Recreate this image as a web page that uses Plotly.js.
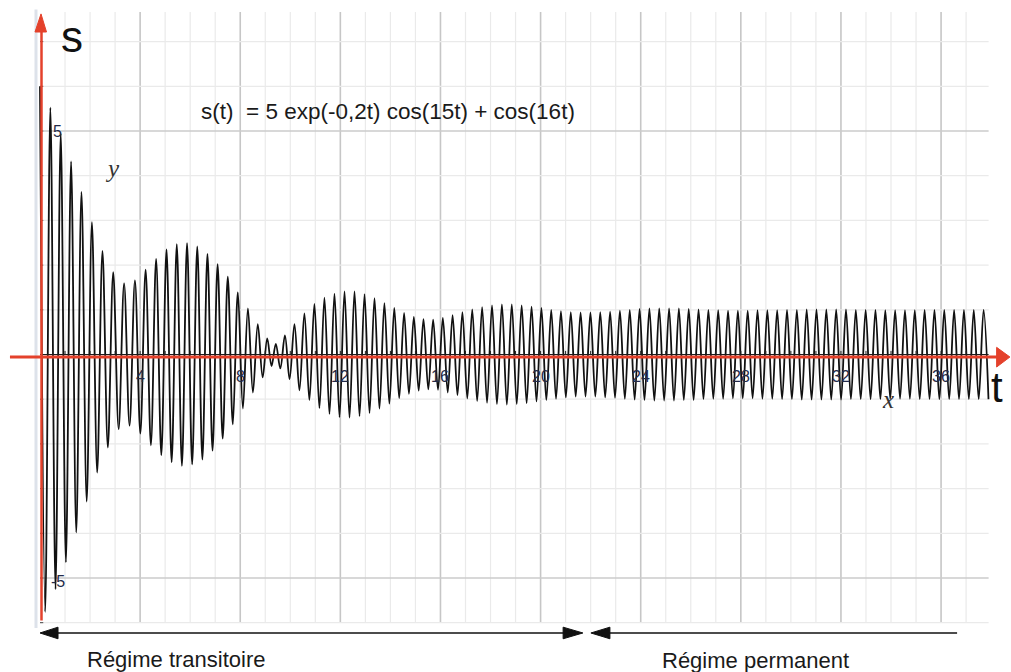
<!DOCTYPE html>
<html>
<head>
<meta charset="utf-8">
<script src="https://cdn.plot.ly/plotly-3.0.1.min.js"></script>
<style>html,body{margin:0;padding:0;background:#fff;}#chart{width:1011px;height:672px;}</style>
</head>
<body>
<div id="chart"></div>
<script>
// Extrema of the plotted curve s(t)
const tPeaks = [
0, 0.207, 0.414, 0.621, 0.828, 1.035, 1.242, 1.449, 1.657, 1.866,
2.075, 2.285, 2.496, 2.710, 2.925, 3.142, 3.360, 3.578, 3.793, 4.009,
4.220, 4.431, 4.639, 4.847, 5.054, 5.260, 5.465, 5.670, 5.875, 6.079,
6.283, 6.487, 6.690, 6.893, 7.096, 7.299, 7.502, 7.704, 7.905, 8.106,
8.307, 8.507, 8.701, 8.896, 9.079, 9.251, 9.422, 9.601, 9.786, 9.971,
10.167, 10.365, 10.564, 10.763, 10.963, 11.164, 11.364, 11.565, 11.765, 11.966,
12.166, 12.366, 12.566, 12.766, 12.966, 13.165, 13.364, 13.562, 13.760, 13.958,
14.155, 14.351, 14.547, 14.741, 14.936, 15.129, 15.321, 15.514, 15.707, 15.901,
16.095, 16.290, 16.484, 16.680, 16.876, 17.072, 17.269, 17.466, 17.664, 17.861,
18.059, 18.256, 18.454, 18.652, 18.849, 19.047, 19.244, 19.442, 19.639, 19.836,
20.033, 20.229, 20.425, 20.617, 20.813, 21.009, 21.206, 21.402, 21.598, 21.795,
21.991, 22.187, 22.384, 22.580, 22.777, 22.973, 23.169, 23.366, 23.562, 23.758,
23.955, 24.151, 24.347, 24.544, 24.740, 24.936, 25.133, 25.329, 25.525, 25.722,
25.918, 26.114, 26.311, 26.507, 26.704, 26.900, 27.096, 27.293, 27.489, 27.685,
27.882, 28.078, 28.274, 28.471, 28.667, 28.863, 29.060, 29.256, 29.452, 29.649,
29.845, 30.041, 30.238, 30.434, 30.631, 30.827, 31.023, 31.220, 31.416, 31.612,
31.809, 32.005, 32.201, 32.398, 32.594, 32.790, 32.987, 33.183, 33.379, 33.576,
33.772, 33.968, 34.165, 34.361, 34.558, 34.754, 34.950, 35.147, 35.343, 35.539,
35.736, 35.932, 36.128, 36.325, 36.521, 36.717, 36.914, 37.110, 37.306, 37.503,
37.699, 37.895
];
const sPeaks = [
6.00, -5.76, 5.52, -5.25, 4.95, -4.65, 4.32, -3.98, 3.64, -3.29,
2.96, -2.64, 2.32, -2.08, 1.84, -1.67, 1.59, -1.59, 1.66, -1.77,
1.90, -2.03, 2.14, -2.25, 2.35, -2.41, 2.47, -2.49, 2.49, -2.46,
2.42, -2.35, 2.25, -2.15, 2.02, -1.88, 1.74, -1.56, 1.39, -1.21,
1.03, -0.85, 0.68, -0.51, 0.36, -0.26, 0.24, -0.31, 0.43, -0.55,
0.68, -0.80, 0.92, -1.02, 1.13, -1.20, 1.27, -1.33, 1.36, -1.40,
1.41, -1.41, 1.41, -1.38, 1.35, -1.31, 1.26, -1.21, 1.15, -1.10,
1.04, -0.98, 0.93, -0.88, 0.84, -0.81, 0.79, -0.78, 0.78, -0.79,
0.82, -0.85, 0.88, -0.91, 0.95, -0.98, 1.01, -1.04, 1.06, -1.08,
1.10, -1.11, 1.12, -1.12, 1.12, -1.11, 1.10, -1.09, 1.07, -1.05,
1.04, -1.02, 1.00, -0.99, 0.97, -0.96, 0.95, -0.94, 0.94, -0.94,
0.94, -0.94, 0.95, -0.96, 0.96, -0.97, 0.98, -0.99, 1.00, -1.01,
1.02, -1.02, 1.03, -1.03, 1.03, -1.03, 1.03, -1.03, 1.03, -1.02,
1.02, -1.02, 1.01, -1.00, 1.00, -0.99, 0.99, -0.99, 0.98, -0.98,
0.98, -0.98, 0.98, -0.98, 0.99, -0.99, 0.99, -0.99, 0.99, -1.00,
1.00, -1.00, 1.00, -1.01, 1.01, -1.01, 1.01, -1.01, 1.01, -1.01,
1.01, -1.01, 1.01, -1.00, 1.00, -1.00, 1.00, -1.00, 1.00, -1.00,
0.99, -0.99, 0.99, -0.99, 0.99, -0.99, 0.99, -1.00, 1.00, -1.00,
1.00, -1.00, 1.00, -1.00, 1.00, -1.00, 1.00, -1.00, 1.00, -1.00,
1.00, -1.00
];

// Tick labels
const xTickVals = [4, 8, 12, 16, 20, 24, 28, 32, 36];
const xTickText = ["4", "8", "12", "16", "20", "24", "28", "32", "36"];
const yTickVals = [5, -5];
const yTickText = ["5", "-5"];

// Texts
const formulaText = "s(t)  = 5 exp(-0,2t) cos(15t) + cos(16t)";
const labelTransitoire = "Régime transitoire";
const labelPermanent = "Régime permanent";
const regimeBoundary = 21.6; // t where the two regimes meet (arrow ends)

// ---------- layout helpers ----------
const RED = "#e4412b";
const shapes = [];
const xMaxGrid = 37.9, yTopGrid = 7.66, yBotGrid = -6.0;

// grid: vertical lines every unit, darker every 4
for (let t = 1; t <= 37; t++) {
  const major = (t % 4 === 0);
  shapes.push({type: "line", layer: "below", xref: "x", yref: "y",
    x0: t, x1: t, y0: yBotGrid, y1: yTopGrid,
    line: {color: major ? "#c6c6c6" : "#eaeaea", width: major ? 1.6 : 1.2}});
}
// grid: horizontal lines every unit, darker at +/-5
for (let s = -6; s <= 7; s++) {
  if (s === 0) continue;
  const major = (Math.abs(s) === 5);
  shapes.push({type: "line", layer: "below", xref: "x", yref: "y",
    x0: 0, x1: xMaxGrid, y0: s, y1: s,
    line: {color: major ? "#cbcbcb" : "#eaeaea", width: major ? 1.6 : 1.2}});
}
// light band to the left of the s axis
shapes.push({type: "line", layer: "below", xref: "x", yref: "y",
  x0: -0.16, x1: -0.16, y0: -6.12, y1: 7.72, line: {color: "#dde2ea", width: 3}});

// black axis line and small ticks
shapes.push({type: "line", xref: "x", yref: "y", x0: 0, x1: xMaxGrid, y0: 0, y1: 0,
  line: {color: "#1a1a1a", width: 1.2}});
for (let t = 1; t <= 37; t++) {
  shapes.push({type: "line", xref: "x", yref: "y", x0: t, x1: t, y0: 0, y1: 0.08,
    line: {color: "#222", width: 1}});
}
for (let s = -6; s <= 7; s++) {
  if (s === 0) continue;
  shapes.push({type: "line", xref: "x", yref: "y", x0: 0, x1: 0.13, y0: s, y1: s,
    line: {color: "#444", width: 1}});
}

// red s axis with arrow
shapes.push({type: "line", xref: "x", yref: "y", x0: 0.06, x1: 0.06, y0: -5.95, y1: 7.3,
  line: {color: RED, width: 2.5}});
shapes.push({type: "path", xref: "x", yref: "y",
  path: "M 0.04 7.62 L 0.26 7.215 L -0.2 7.215 Z", fillcolor: RED, line: {color: RED, width: 1}});
// red t axis with arrow
shapes.push({type: "line", xref: "x", yref: "y", x0: -1.2, x1: 38.3, y0: -0.056, y1: -0.056,
  line: {color: RED, width: 3}});
shapes.push({type: "path", xref: "x", yref: "y",
  path: "M 38.75 -0.056 L 38.22 0.16 L 38.22 -0.28 Z", fillcolor: RED, line: {color: RED, width: 1}});

// regime arrows at the bottom
const yArr = -6.23, hh = 0.13;
shapes.push({type: "line", xref: "x", yref: "y", x0: 0.3, x1: regimeBoundary - 0.3, y0: yArr, y1: yArr,
  line: {color: "#111", width: 1.6}});
shapes.push({type: "path", xref: "x", yref: "y",
  path: `M 0 ${yArr} L 0.72 ${yArr + hh} L 0.72 ${yArr - hh} Z`, fillcolor: "#111", line: {color: "#111", width: 1}});
shapes.push({type: "path", xref: "x", yref: "y",
  path: `M ${regimeBoundary + 0.09} ${yArr} L ${regimeBoundary - 0.7} ${yArr + hh} L ${regimeBoundary - 0.7} ${yArr - hh} Z`,
  fillcolor: "#111", line: {color: "#111", width: 1}});
shapes.push({type: "line", xref: "x", yref: "y", x0: regimeBoundary + 0.9, x1: 36.64, y0: yArr, y1: yArr,
  line: {color: "#111", width: 1.6}});
shapes.push({type: "path", xref: "x", yref: "y",
  path: `M ${regimeBoundary + 0.41} ${yArr} L ${regimeBoundary + 1.17} ${yArr + hh} L ${regimeBoundary + 1.17} ${yArr - hh} Z`,
  fillcolor: "#111", line: {color: "#111", width: 1}});

// ---------- annotations ----------
const annotations = [];
const tickFont = {family: "Liberation Sans, Arial, sans-serif", size: 16, color: "#232a48"};
xTickVals.forEach((v, i) => annotations.push({xref: "x", yref: "y", x: v, y: -0.5,
  text: xTickText[i], showarrow: false, xanchor: "center", yanchor: "middle", font: tickFont}));
yTickVals.forEach((v, i) => annotations.push({xref: "x", yref: "y", x: 0.7, y: v - (v < 0 ? 0.07 : 0),
  text: yTickText[i], showarrow: false, xanchor: "center", yanchor: "middle", font: tickFont}));

function px(x, y, text, size, family, color) {
  annotations.push({xref: "paper", yref: "paper", x: x / 1011, y: 1 - y / 672, text: text,
    showarrow: false, xanchor: "center", yanchor: "middle",
    font: {family: family, size: size, color: color || "#111"}});
}
const sans = "Liberation Sans, Arial, sans-serif";
const serif = "Liberation Serif, Times New Roman, serif";
px(388, 112, formulaText, 22.5, sans, "#1a1a1a");
px(72, 36, "s", 44, sans);
px(997, 388, "t", 42, sans);
px(112, 168, "<i>y</i>", 25, serif, "#333");
px(888, 399, "<i>x</i>", 25, serif, "#333");
px(176, 659, labelTransitoire, 22, sans, "#1a1a1a");
px(755, 660, labelPermanent, 22, sans, "#1a1a1a");

const trace = {
  x: tPeaks, y: sPeaks, type: "scatter", mode: "lines",
  line: {color: "#111111", width: 1.8, shape: "spline", smoothing: 1},
  hoverinfo: "skip"
};

const layout = {
  width: 1011, height: 672,
  margin: {l: 0, r: 0, t: 0, b: 0},
  paper_bgcolor: "#ffffff", plot_bgcolor: "#ffffff",
  showlegend: false,
  xaxis: {range: [-1.598, 38.794], visible: false, fixedrange: true},
  yaxis: {range: [-7.103, 7.931], visible: false, fixedrange: true},
  shapes: shapes,
  annotations: annotations
};

Plotly.newPlot("chart", [trace], layout, {displayModeBar: false, staticPlot: true});
</script>
</body>
</html>
